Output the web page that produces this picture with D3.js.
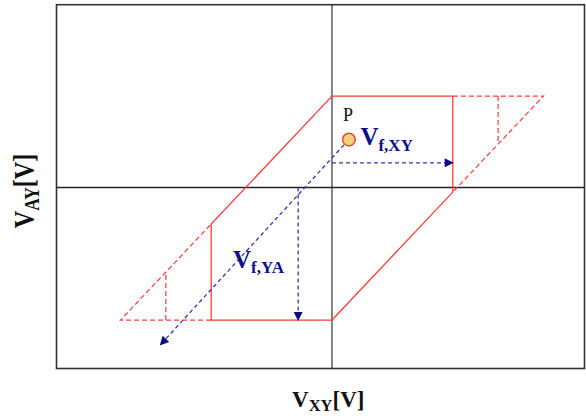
<!DOCTYPE html>
<html>
<head>
<meta charset="utf-8">
<script src="https://cdn.jsdelivr.net/npm/d3@7"></script>
<style>
  html, body { margin: 0; padding: 0; background: #fff; }
  svg { display: block; }
</style>
</head>
<body>
<svg id="chart" width="586" height="416"></svg>
<script>
// Hysteresis window in the V_XY / V_AY plane (arbitrary units, origin at the axis cross)
const xDomain = [-2.28, 2.09];
const yDomain = [-1.98, 2.0];

// Solid window outline
const windowOutline = [[0, 1], [1, 1], [1, -0.05], [0, -1.45], [-1, -1.45], [-1, -0.4], [0, 1]];
// Dashed extensions on both sides
const extRight = [[1, 1], [1.75, 1], [1, -0.05]];
const extRightTick = [[1.375, 1], [1.375, 0.475]];
const extLeft = [[-1, -1.45], [-1.75, -1.45], [-1, -0.4]];
const extLeftTick = [[-1.375, -1.45], [-1.375, -0.925]];

// Operating point P and its projections
const pointP = [0.14, 0.525];
const diagEnd = [-1.42, -1.72];
const arrowXY = [[0, 0.27], [1, 0.27]];
const arrowYA = [[-0.28, 0], [-0.28, -1.45]];

const labels = {
  p: "P",
  vfxy: ["V", "f,XY"],
  vfya: ["V", "f,YA"],
  xAxis: ["V", "XY", "[V]"],
  yAxis: ["V", "AY", "[V]"]
};

(function draw() {
  const svg = d3.select("#chart");
  const plotL = 56.5, plotR = 584.5, plotT = 4.7, plotB = 368.5;
  const x = d3.scaleLinear().domain(xDomain).range([plotL, plotR]);
  const y = d3.scaleLinear().domain(yDomain).range([plotB, plotT]);
  const line = d3.line().x(d => x(d[0])).y(d => y(d[1]));

  const red = "#ff3b3b";
  const blue = "#3636b0";
  const navy = "#0d0d86";

  const defs = svg.append("defs");
  defs.append("marker")
    .attr("id", "head")
    .attr("viewBox", "0 0 10 10")
    .attr("refX", 9).attr("refY", 5)
    .attr("markerWidth", 10).attr("markerHeight", 9)
    .attr("markerUnits", "userSpaceOnUse")
    .attr("orient", "auto")
    .append("path")
    .attr("d", "M0,0 L10,5 L0,10 Z")
    .attr("fill", navy);

  // Frame
  svg.append("rect")
    .attr("x", plotL).attr("y", plotT)
    .attr("width", plotR - plotL).attr("height", plotB - plotT)
    .attr("fill", "none").attr("stroke", "#333").attr("stroke-width", 1.6);

  // Axes through the origin
  svg.append("line")
    .attr("x1", x(0)).attr("x2", x(0)).attr("y1", plotT).attr("y2", plotB)
    .attr("stroke", "#222").attr("stroke-width", 1.1);
  svg.append("line")
    .attr("x1", plotL).attr("x2", plotR).attr("y1", y(0)).attr("y2", y(0))
    .attr("stroke", "#222").attr("stroke-width", 1.4);

  // Red window
  const dashedRed = [extRight, extRightTick, extLeft, extLeftTick];
  svg.selectAll("path.ext").data(dashedRed).join("path")
    .attr("class", "ext")
    .attr("d", line)
    .attr("fill", "none").attr("stroke", red)
    .attr("stroke-width", 1.2).attr("stroke-dasharray", "5,3");
  svg.append("path")
    .datum(windowOutline)
    .attr("d", line)
    .attr("fill", "none").attr("stroke", red).attr("stroke-width", 1.3);

  // Blue projections
  const r = 6.3;
  const px = x(pointP[0]), py = y(pointP[1]);
  const ex = x(diagEnd[0]), ey = y(diagEnd[1]);
  const len = Math.hypot(ex - px, ey - py);
  svg.append("line")
    .attr("x1", px + (ex - px) / len * (r + 1))
    .attr("y1", py + (ey - py) / len * (r + 1))
    .attr("x2", ex).attr("y2", ey)
    .attr("stroke", blue).attr("stroke-width", 1.3)
    .attr("stroke-dasharray", "4,3")
    .attr("marker-end", "url(#head)");
  [arrowXY, arrowYA].forEach(seg => {
    svg.append("path").datum(seg)
      .attr("d", line)
      .attr("fill", "none").attr("stroke", blue)
      .attr("stroke-width", 1.3).attr("stroke-dasharray", "4,3")
      .attr("marker-end", "url(#head)");
  });

  // Operating point
  svg.append("circle")
    .attr("cx", px).attr("cy", py).attr("r", r)
    .attr("fill", "#f2d27e").attr("stroke", "#f04a3a").attr("stroke-width", 1.6);

  const serif = "'Liberation Serif', 'DejaVu Serif', serif";

  svg.append("text")
    .attr("x", px - 6).attr("y", py - 18.5)
    .attr("font-family", serif).attr("font-size", 18).attr("fill", "#111")
    .text(labels.p);

  function subLabel(tx, ty, parts, size, subSize, shift, color) {
    const t = svg.append("text")
      .attr("x", tx).attr("y", ty)
      .attr("font-family", serif).attr("font-weight", "bold")
      .attr("font-size", size).attr("fill", color);
    t.append("tspan").text(parts[0]);
    t.append("tspan").attr("font-size", subSize).attr("dy", shift).text(parts[1]);
    if (parts[2]) t.append("tspan").attr("dy", -shift).text(parts[2]);
    return t;
  }

  subLabel(px + 11.5, py + 5.5, labels.vfxy, 25, 17, 6, navy);
  subLabel(233, 268, labels.vfya, 25, 17, 5, navy);

  // Axis titles
  subLabel(292, 407, labels.xAxis, 23, 16.5, 4, "#111");
  subLabel(0, 0, labels.yAxis, 23, 16.5, 4, "#111")
    .attr("text-anchor", "middle")
    .attr("transform", "translate(33.5,191) rotate(-90) scale(1.05,1.25)");
})();
</script>
</body>
</html>
